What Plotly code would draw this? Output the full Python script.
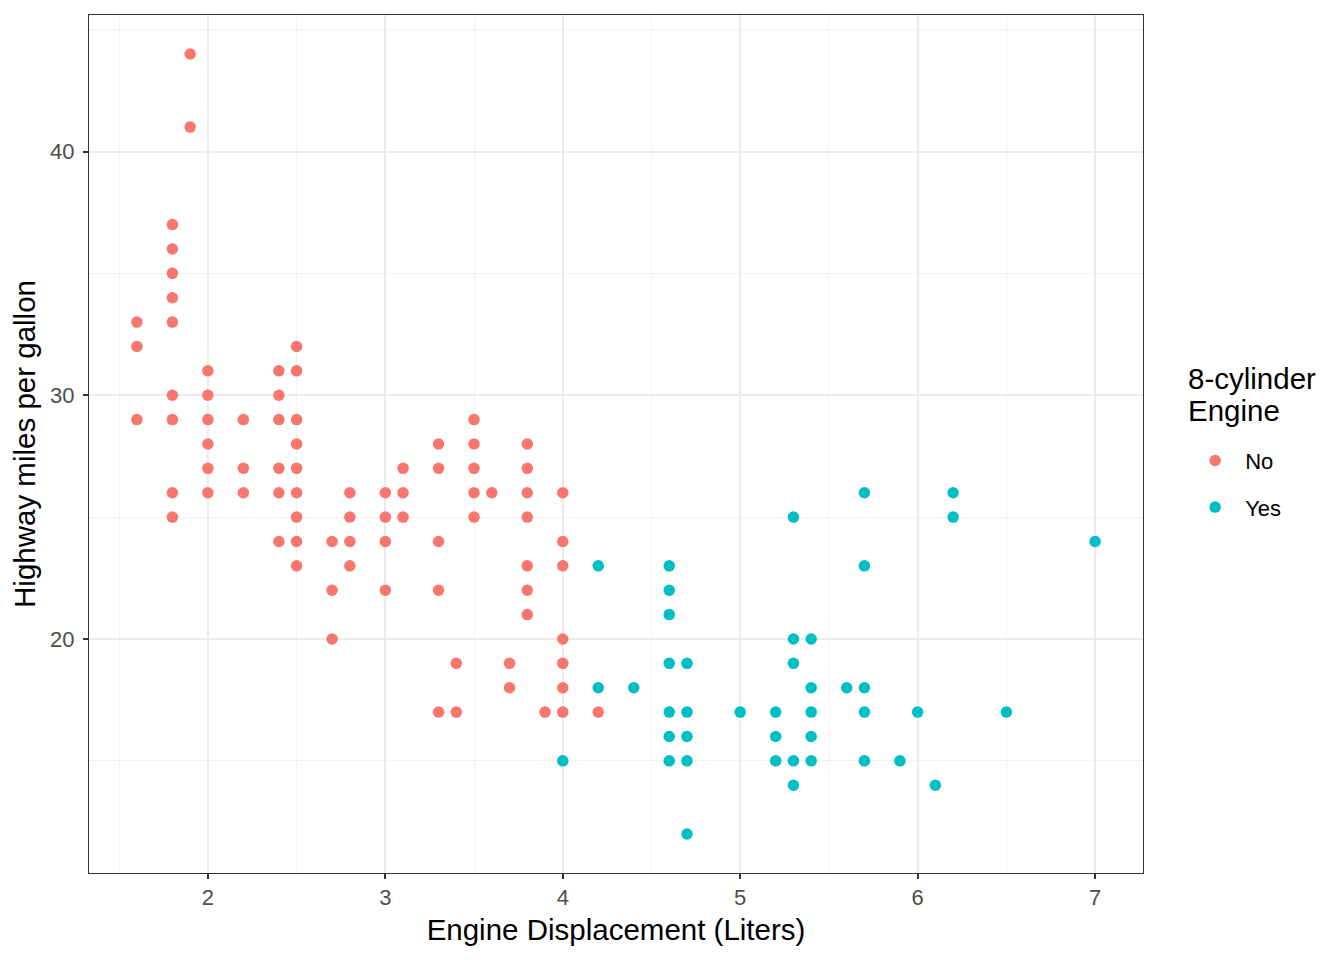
import plotly.graph_objects as go

# Engine displacement (litres) and highway mpg, split by 8-cylinder engine
displ_no = [1.6, 1.6, 1.6,
            1.8, 1.8, 1.8, 1.8, 1.8, 1.8, 1.8, 1.8, 1.8,
            1.9, 1.9,
            2.0, 2.0, 2.0, 2.0, 2.0, 2.0,
            2.2, 2.2, 2.2,
            2.4, 2.4, 2.4, 2.4, 2.4, 2.4,
            2.5, 2.5, 2.5, 2.5, 2.5, 2.5, 2.5, 2.5, 2.5,
            2.7, 2.7, 2.7,
            2.8, 2.8, 2.8, 2.8,
            3.0, 3.0, 3.0, 3.0,
            3.1, 3.1, 3.1,
            3.3, 3.3, 3.3, 3.3, 3.3,
            3.4, 3.4,
            3.5, 3.5, 3.5, 3.5, 3.5,
            3.6,
            3.7, 3.7,
            3.8, 3.8, 3.8, 3.8, 3.8, 3.8, 3.8,
            3.9,
            4.0, 4.0, 4.0, 4.0, 4.0, 4.0, 4.0,
            4.2]
hwy_no = [33, 32, 29,
          37, 36, 35, 34, 33, 30, 29, 26, 25,
          44, 41,
          31, 30, 29, 28, 27, 26,
          29, 27, 26,
          31, 30, 29, 27, 26, 24,
          32, 31, 29, 28, 27, 26, 25, 24, 23,
          24, 22, 20,
          26, 25, 24, 23,
          26, 25, 24, 22,
          27, 26, 25,
          28, 27, 24, 22, 17,
          19, 17,
          29, 28, 27, 26, 25,
          26,
          19, 18,
          28, 27, 26, 25, 23, 22, 21,
          17,
          26, 24, 23, 20, 19, 18, 17,
          17]

displ_yes = [4.0,
             4.2, 4.2,
             4.4,
             4.6, 4.6, 4.6, 4.6, 4.6, 4.6, 4.6,
             4.7, 4.7, 4.7, 4.7, 4.7,
             5.0,
             5.2, 5.2, 5.2,
             5.3, 5.3, 5.3, 5.3, 5.3,
             5.4, 5.4, 5.4, 5.4, 5.4,
             5.6,
             5.7, 5.7, 5.7, 5.7, 5.7,
             5.9,
             6.0,
             6.1,
             6.2, 6.2,
             6.5,
             7.0]
hwy_yes = [15,
           23, 18,
           18,
           23, 22, 21, 19, 17, 16, 15,
           19, 17, 16, 15, 12,
           17,
           17, 16, 15,
           25, 20, 19, 15, 14,
           20, 18, 17, 16, 15,
           18,
           26, 23, 18, 17, 15,
           15,
           17,
           14,
           26, 25,
           17,
           24]

legend_title = ["8-cylinder", "Engine"]

fig = go.Figure()

fig.add_trace(go.Scatter(
    x=displ_no, y=hwy_no, mode="markers", name="No",
    legendgroup="no",
    marker=dict(color="#F8766D", size=11.5),
))
fig.add_trace(go.Scatter(
    x=displ_yes, y=hwy_yes, mode="markers", name="Yes",
    legendgroup="yes",
    marker=dict(color="#00BFC4", size=11.5),
))

axis_common = dict(
    showline=True, mirror=True, linecolor="#333333", linewidth=1,
    ticks="outside", ticklen=5, tickwidth=1.5, tickcolor="#333333",
    gridcolor="#EBEBEB", gridwidth=1.5, zeroline=False,
    tickfont=dict(size=22, color="#4D4D4D"),
    title_font=dict(size=29.5, color="black"),
)

fig.update_xaxes(
    range=[1.33, 7.27], dtick=1, tick0=0,
    minor=dict(dtick=0.5, showgrid=True, gridcolor="#F2F2F2", gridwidth=0.8, ticks=""),
    title_text="Engine Displacement (Liters)", title_standoff=9,
    **axis_common
)
fig.update_yaxes(
    range=[10.4, 45.6], dtick=10, tick0=0,
    minor=dict(dtick=5, showgrid=True, gridcolor="#F2F2F2", gridwidth=0.8, ticks=""),
    title_text="Highway miles per gallon", title_standoff=8,
    ticklabelstandoff=4,
    **axis_common
)

# legend title drawn as two lines of text, tighter than plotly's own title spacing
for line, ypos in zip(legend_title, [0.5769, 0.5396]):
    fig.add_annotation(
        text=line, xref="paper", yref="paper", x=1.041, y=ypos,
        xanchor="left", yanchor="middle", showarrow=False,
        font=dict(size=29.5, color="black"),
    )

# the page body adds an 8px offset, so margins are shifted to compensate
fig.update_layout(
    width=1344, height=960,
    margin=dict(l=81, r=209, t=7, b=95),
    plot_bgcolor="white", paper_bgcolor="white",
    font=dict(family="Liberation Sans, Arial, sans-serif"),
    legend=dict(
        font=dict(size=22, color="black"),
        x=1.04, xanchor="left", y=0.505, yanchor="top",
        tracegroupgap=15, itemwidth=50,
    ),
)

fig.write_html("out.html")
